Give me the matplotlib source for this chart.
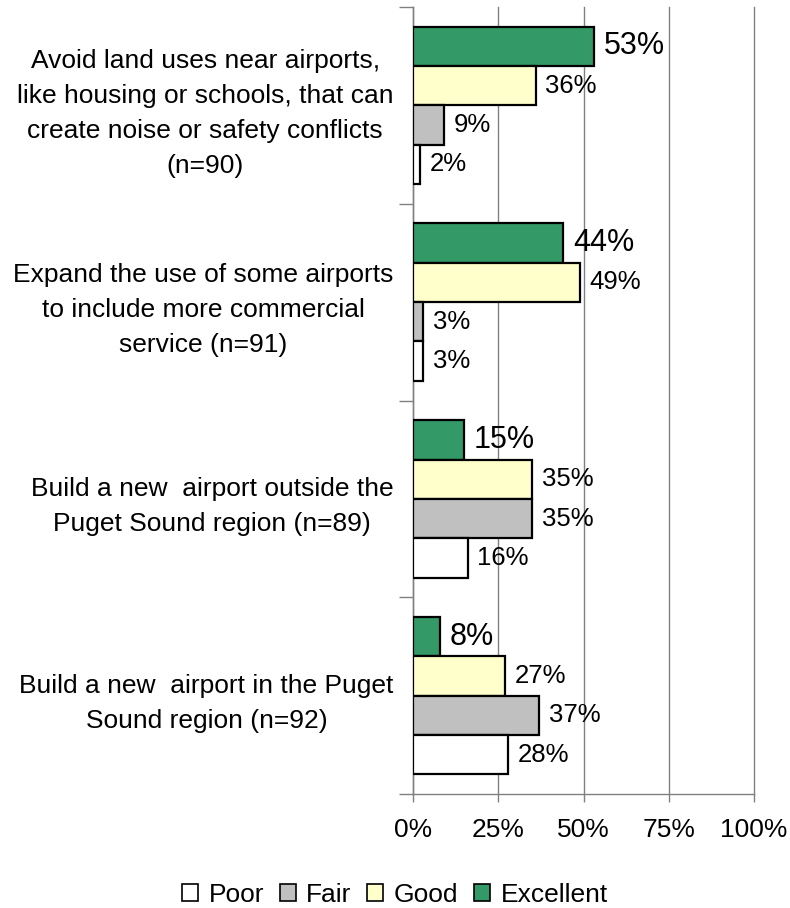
import numpy as np
import matplotlib
matplotlib.use("Agg")
import matplotlib.pyplot as plt
from matplotlib.patches import Patch

plt.rcParams['font.family'] = ['Liberation Sans', 'DejaVu Sans']

questions = [
    "Avoid land uses near airports,\nlike housing or schools, that can\ncreate noise or safety conflicts\n(n=90)",
    "Expand the use of some airports\nto include more commercial\nservice (n=91)",
    "Build a new  airport outside the\nPuget Sound region (n=89)",
    "Build a new  airport in the Puget\nSound region (n=92)",
]
excellent = [53, 44, 15, 8]
good = [36, 49, 35, 27]
fair = [9, 3, 35, 37]
poor = [2, 3, 16, 28]

ratings = ["Poor", "Fair", "Good", "Excellent"]
colors = {"Excellent": "#339966", "Good": "#FFFFCC", "Fair": "#C0C0C0", "Poor": "#FFFFFF"}

fig = plt.figure(figsize=(7.9, 9.08), dpi=100)
ax = fig.add_axes([413 / 790, 1 - 794 / 908, 341 / 790, 787 / 908])

y = np.arange(len(questions))
h = 0.2
series = [("Excellent", excellent, -0.3), ("Good", good, -0.1),
          ("Fair", fair, 0.1), ("Poor", poor, 0.3)]
for name, vals, off in series:
    bars = ax.barh(y + off, vals, height=h, color=colors[name],
                   edgecolor="black", linewidth=1.6, zorder=3)
    fs = 22 if name == "Excellent" else 18.5
    ax.bar_label(bars, labels=[f"{v}%" for v in vals], padding=7, fontsize=fs)

ax.set_xlim(0, 100)
ax.set_ylim(3.5, -0.5)
ax.set_xticks([0, 25, 50, 75, 100])
ax.set_xticklabels(["0%", "25%", "50%", "75%", "100%"], fontsize=19)
ax.tick_params(axis="x", length=6, width=1, color="#808080", pad=11)
ax.xaxis.grid(True, color="#808080", linewidth=1, zorder=0)
# keep the 100% gridline from being clipped at the axes edge
for line in ax.get_xgridlines():
    line.set_clip_on(False)

ax.set_yticks(y)
ax.set_yticklabels(questions, fontsize=19, multialignment="center",
                   linespacing=1.58)
ax.tick_params(axis="y", length=0, pad=14)
ax.set_yticks(np.arange(-0.5, 4, 1), minor=True)
ax.tick_params(axis="y", which="minor", length=10, width=1, color="#808080")

for side in ["top", "right"]:
    ax.spines[side].set_visible(False)
for side in ["left", "bottom"]:
    ax.spines[side].set_color("#808080")
    ax.spines[side].set_linewidth(1)

handles = [Patch(facecolor=colors[r], edgecolor="black", linewidth=1.2, label=r)
           for r in ratings]
fig.legend(handles=handles, loc="center", bbox_to_anchor=(395 / 790, 1 - 895 / 908),
           ncol=4, frameon=False, fontsize=19, handlelength=0.6, handleheight=0.6,
           handletextpad=0.4, columnspacing=0.6)

fig.savefig("out.png", dpi=100)
